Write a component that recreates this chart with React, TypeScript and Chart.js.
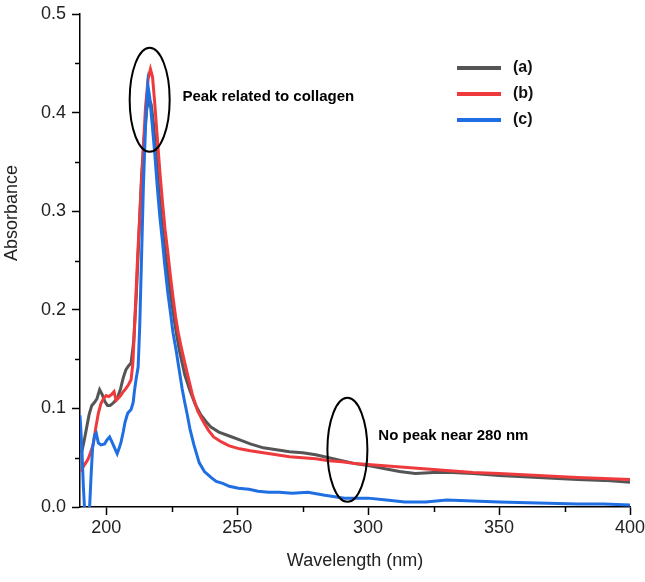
import React, { useEffect, useRef } from 'react';
import { Chart, registerables } from 'chart.js';

Chart.register(...registerables);

const FONT = '"Liberation Sans", Arial, Helvetica, sans-serif';

// Series (a)
const waveA = [190.6, 191.5, 192.5, 193.5, 194.5, 195.5, 196.5, 197.5, 198.5, 199.5, 200.5, 201.5, 202.5, 203.5, 204.5, 205.5, 206.5, 207.5, 208.5, 209.5, 210.5, 211.5, 212.5, 213.5, 214.5, 215.5, 216.4, 217.2, 218, 219, 220, 221, 222, 223, 224, 225, 226, 227, 228, 229, 230, 232, 234, 236, 238, 240, 243, 247, 251, 255, 260, 265, 270, 275, 280, 285, 290, 295, 300, 306, 312, 318, 325, 332, 340, 350, 365, 380, 390, 400];
const absA = [0.055, 0.066, 0.080, 0.094, 0.103, 0.106, 0.110, 0.119, 0.114, 0.107, 0.103, 0.103, 0.105, 0.108, 0.112, 0.120, 0.131, 0.139, 0.143, 0.146, 0.168, 0.215, 0.275, 0.335, 0.375, 0.404, 0.414, 0.408, 0.39, 0.36, 0.325, 0.295, 0.27, 0.248, 0.228, 0.208, 0.19, 0.173, 0.158, 0.146, 0.134, 0.118, 0.104, 0.094, 0.087, 0.081, 0.076, 0.072, 0.068, 0.064, 0.060, 0.058, 0.056, 0.055, 0.053, 0.050, 0.047, 0.044, 0.042, 0.039, 0.036, 0.034, 0.035, 0.035, 0.034, 0.032, 0.030, 0.028, 0.027, 0.025];

// Series (b)
const waveB = [190.3, 191, 192, 193, 194, 195, 196, 197, 198, 199, 200, 201, 202, 203, 203.8, 204.5, 205.5, 206.5, 207.5, 208.5, 209.5, 210.2, 211, 212, 213, 214, 215, 216, 216.9, 217.7, 218.5, 219.5, 220.5, 221.5, 222.5, 223.5, 224.5, 225.5, 226.5, 227.5, 228.5, 229.5, 231, 233, 235, 237, 239, 241, 244, 247, 251, 255, 260, 265, 270, 275, 280, 285, 290, 295, 300, 310, 320, 330, 340, 350, 365, 380, 390, 400];
const absB = [0.036, 0.040, 0.044, 0.048, 0.055, 0.063, 0.080, 0.095, 0.105, 0.110, 0.113, 0.112, 0.114, 0.117, 0.108, 0.110, 0.113, 0.117, 0.120, 0.124, 0.129, 0.146, 0.193, 0.254, 0.305, 0.355, 0.405, 0.434, 0.444, 0.436, 0.411, 0.375, 0.34, 0.309, 0.281, 0.259, 0.235, 0.213, 0.193, 0.177, 0.164, 0.152, 0.135, 0.113, 0.097, 0.087, 0.078, 0.071, 0.066, 0.062, 0.059, 0.057, 0.055, 0.053, 0.051, 0.050, 0.049, 0.047, 0.046, 0.044, 0.043, 0.041, 0.039, 0.037, 0.035, 0.034, 0.032, 0.030, 0.029, 0.028];

// Series (c)
const waveC = [190, 190.7, 191.3, 191.9, 193.5, 194.2, 194.8, 195.6, 196.2, 197, 198, 199.4, 200.3, 201.3, 202.2, 203.2, 204.2, 205, 205.7, 206.5, 207.2, 208.2, 209.5, 210.3, 210.8, 211.5, 212.2, 212.8, 213.5, 214.2, 215, 215.9, 216.6, 217.5, 218.5, 219.5, 220.5, 221.5, 222.3, 223.5, 224.5, 225.5, 226.7, 228, 229, 230, 231, 232, 233.5, 235.5, 237.5, 240, 242, 244.5, 247, 250.5, 254.5, 258, 262, 266, 271, 277, 283.5, 291, 300, 307, 314, 322, 330, 340, 350, 365, 380, 390, 400];
const absC = [0.093, 0.060, 0.020, -0.010, -0.010, 0.030, 0.060, 0.073, 0.075, 0.065, 0.063, 0.064, 0.068, 0.071, 0.066, 0.060, 0.054, 0.060, 0.066, 0.076, 0.086, 0.095, 0.099, 0.106, 0.118, 0.131, 0.142, 0.183, 0.253, 0.325, 0.385, 0.428, 0.416, 0.39, 0.36, 0.325, 0.294, 0.269, 0.247, 0.218, 0.198, 0.177, 0.159, 0.137, 0.12, 0.106, 0.093, 0.079, 0.063, 0.045, 0.036, 0.030, 0.026, 0.024, 0.021, 0.019, 0.018, 0.016, 0.015, 0.015, 0.014, 0.015, 0.012, 0.009, 0.009, 0.007, 0.005, 0.005, 0.007, 0.006, 0.005, 0.004, 0.003, 0.003, 0.002];

const seriesLabels = ['(a)', '(b)', '(c)'];
const seriesColors = ['#555555', '#ef3a3d', '#1f6fe3'];

const xMajorTicks = [200, 250, 300, 350, 400];
const xMinorTicks = [225, 275, 325, 375];
const yMajorTicks = [0, 0.1, 0.2, 0.3, 0.4, 0.5];
const yMinorTicks = [0.05, 0.15, 0.25, 0.35, 0.45];

const annotations = [
  { text: 'Peak related to collagen', cx: 216.6, cy: 0.413, tx: 229.1, ty: 0.416 },
  { text: 'No peak near 280 nm', cx: 292.1, cy: 0.058, tx: 303.9, ty: 0.072 },
];

const toPoints = (xs: number[], ys: number[]) => xs.map((x, i) => ({ x, y: ys[i] }));

const overlayPlugin = {
  id: 'overlay',
  afterDraw(chart: any) {
    const { ctx, scales } = chart;
    const xs = scales.x;
    const ys = scales.y;
    ctx.save();
    // minor ticks
    ctx.strokeStyle = '#000';
    ctx.lineWidth = 1.5;
    xMinorTicks.forEach((v) => {
      const px = Math.round(xs.getPixelForValue(v)) + 0.5;
      ctx.beginPath();
      ctx.moveTo(px, ys.bottom);
      ctx.lineTo(px, ys.bottom + 5);
      ctx.stroke();
    });
    yMinorTicks.forEach((v) => {
      const py = Math.round(ys.getPixelForValue(v)) + 0.5;
      ctx.beginPath();
      ctx.moveTo(xs.left, py);
      ctx.lineTo(xs.left - 5, py);
      ctx.stroke();
    });
    // ellipses + annotation text
    ctx.lineWidth = 2;
    ctx.strokeStyle = '#000';
    ctx.fillStyle = '#000';
    ctx.font = `bold 15px ${FONT}`;
    ctx.textAlign = 'left';
    ctx.textBaseline = 'middle';
    annotations.forEach((a) => {
      ctx.beginPath();
      ctx.ellipse(xs.getPixelForValue(a.cx), ys.getPixelForValue(a.cy), 20, 52, 0, 0, Math.PI * 2);
      ctx.stroke();
      ctx.fillText(a.text, xs.getPixelForValue(a.tx), ys.getPixelForValue(a.ty));
    });
    // legend
    ctx.font = `bold 16px ${FONT}`;
    chart.data.datasets.forEach((ds: any, i: number) => {
      const ly = 68 + i * 26;
      ctx.strokeStyle = ds.borderColor;
      ctx.lineWidth = 4;
      ctx.beginPath();
      ctx.moveTo(457, ly);
      ctx.lineTo(501, ly);
      ctx.stroke();
      ctx.fillStyle = '#111';
      ctx.fillText(ds.label, 513, ly);
    });
    // y axis title
    ctx.translate(12, 213);
    ctx.rotate(-Math.PI / 2);
    ctx.textAlign = 'center';
    ctx.font = `18px ${FONT}`;
    ctx.fillStyle = '#222';
    ctx.fillText('Absorbance', 0, 0);
    ctx.restore();
  },
};

export default function App() {
  const ref = useRef<HTMLCanvasElement>(null);
  useEffect(() => {
    const chart = new Chart(ref.current as HTMLCanvasElement, {
      type: 'line',
      data: {
        datasets: [
          { label: seriesLabels[0], data: toPoints(waveA, absA), borderColor: seriesColors[0], order: 3 },
          { label: seriesLabels[1], data: toPoints(waveB, absB), borderColor: seriesColors[1], order: 2 },
          { label: seriesLabels[2], data: toPoints(waveC, absC), borderColor: seriesColors[2], order: 1 },
        ],
      },
      options: {
        animation: false,
        responsive: false,
        layout: { padding: { left: 0, top: 14, right: 15, bottom: 0 } },
        elements: {
          point: { radius: 0 },
          line: { borderWidth: 3, tension: 0, fill: false },
        },
        plugins: { legend: { display: false }, tooltip: { enabled: false } },
        scales: {
          x: {
            type: 'linear',
            min: 190,
            max: 400,
            afterBuildTicks: (s: any) => {
              s.ticks = xMajorTicks.map((v) => ({ value: v }));
            },
            afterFit: (s: any) => {
              s.height = 75;
              s.paddingLeft = 0;
              s.paddingRight = 0;
            },
            ticks: {
              font: { family: FONT, size: 18 },
              color: '#222',
              padding: 2,
              maxRotation: 0,
              autoSkip: false,
              callback: (v: any) => String(v),
            },
            grid: { drawOnChartArea: false, drawTicks: true, tickLength: 8, tickColor: '#000', tickWidth: 1.5 },
            border: { display: true, color: '#000', width: 1.5 },
            title: {
              display: true,
              text: 'Wavelength (nm)',
              font: { family: FONT, size: 18 },
              color: '#222',
              padding: { top: 0, bottom: 10 },
            },
          },
          y: {
            type: 'linear',
            min: 0,
            max: 0.5,
            afterBuildTicks: (s: any) => {
              s.ticks = yMajorTicks.map((v) => ({ value: v }));
            },
            afterFit: (s: any) => {
              s.width = 80;
              s.paddingTop = 0;
              s.paddingBottom = 0;
            },
            ticks: {
              font: { family: FONT, size: 18 },
              color: '#222',
              padding: 6,
              autoSkip: false,
              callback: (v: any) => Number(v).toFixed(1),
            },
            grid: { drawOnChartArea: false, drawTicks: true, tickLength: 8, tickColor: '#000', tickWidth: 1.5 },
            border: { display: true, color: '#000', width: 1.5 },
          },
        },
      },
      plugins: [overlayPlugin],
    } as any);
    return () => chart.destroy();
  }, []);
  return (
    <div style={{ position: 'fixed', left: 0, top: 0, width: 645, height: 582, background: '#fff' }}>
      <canvas ref={ref} width={645} height={582} style={{ display: 'block', width: 645, height: 582 }} />
    </div>
  );
}
